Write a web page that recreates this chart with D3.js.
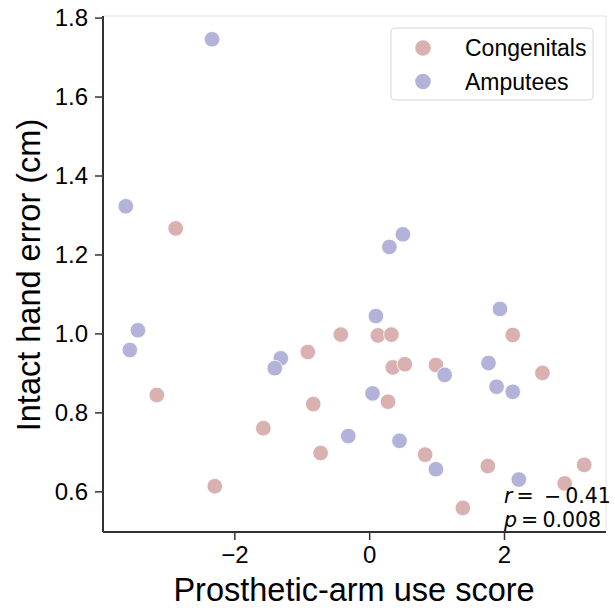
<!DOCTYPE html>
<html>
<head>
<meta charset="utf-8">
<script src="https://cdn.jsdelivr.net/npm/d3@7"></script>
<style>
    body { margin: 0; background: white; }
    svg { display: block; }
</style>
</head>
<body>
<div id="chart"></div>
<script>
// Congenitals: prosthetic-arm use score and intact hand error (cm)
const congenitalScore = [-2.87, -3.15, -1.57, -2.29, -0.91, -0.83, -0.72, -0.42, 0.13, 0.33, 0.35,
    0.53, 0.28, 0.99, 0.83, 1.76, 1.39, 2.13, 2.57, 3.19, 2.90];
const congenitalError = [1.266, 0.844, 0.760, 0.613, 0.953, 0.821, 0.697, 0.997, 0.995, 0.997, 0.914,
    0.922, 0.827, 0.920, 0.693, 0.664, 0.558, 0.996, 0.900, 0.667, 0.620];

// Amputees
const amputeeScore = [-2.33, -3.61, -3.43, -3.55, -1.31, -1.40, 0.50, 0.30, 0.10, 0.05, -0.31,
    0.45, 0.99, 1.12, 1.94, 1.77, 1.89, 2.13, 2.22];
const amputeeError = [1.745, 1.322, 1.008, 0.958, 0.937, 0.912, 1.251, 1.219, 1.044, 0.848, 0.740,
    0.728, 0.656, 0.895, 1.062, 0.925, 0.865, 0.852, 0.630];

const groups = ['Congenitals', 'Amputees'];
const groupColors = ['#d9b1b1', '#b3b3da'];
const xTicks = [-2, 0, 2];
const yTicks = [0.6, 0.8, 1.0, 1.2, 1.4, 1.6, 1.8];
const statLines = [['r', '\u2009=\u2002−\u20090.41'], ['p', '\u2009=\u20090.008']];

const width = 615;
const height = 608;
const margin = {left: 103, right: 606, top: 16, bottom: 532};
const font = '"Liberation Sans", Arial, Helvetica, sans-serif';

const x = d3.scaleLinear().domain([-3.948, 3.513]).range([margin.left, margin.right]);
const y = d3.scaleLinear().domain([0.497, 1.804]).range([margin.bottom, margin.top]);

const svg = d3.select('#chart').append('svg')
    .attr('width', width)
    .attr('height', height);

// light top / right spines
svg.append('line').attr('x1', margin.left).attr('x2', margin.right)
    .attr('y1', margin.top).attr('y2', margin.top)
    .attr('stroke', '#e3e3e3').attr('stroke-width', 1);
svg.append('line').attr('x1', margin.right).attr('x2', margin.right)
    .attr('y1', margin.top).attr('y2', margin.bottom)
    .attr('stroke', '#e3e3e3').attr('stroke-width', 1);

// axes
const xAxis = svg.append('g')
    .attr('transform', `translate(0,${margin.bottom})`)
    .call(d3.axisBottom(x).tickValues(xTicks).tickSize(8).tickPadding(6)
        .tickFormat(d => d < 0 ? '−' + Math.abs(d) : d))
    .call(g => g.select('.domain').attr('d', `M${margin.left},0H${margin.right}`));
const yAxis = svg.append('g')
    .attr('transform', `translate(${margin.left},0)`)
    .call(d3.axisLeft(y).tickValues(yTicks).tickSize(8).tickPadding(7).tickFormat(d3.format('.1f')))
    .call(g => g.select('.domain').attr('d', `M0,${margin.top}V${margin.bottom}`));

[xAxis, yAxis].forEach(g => {
    g.select('.domain').attr('stroke', '#333').attr('stroke-width', 2);
    g.selectAll('.tick line').attr('stroke', '#333').attr('stroke-width', 1.5);
    g.selectAll('.tick text').attr('fill', 'black')
        .style('font-family', font).style('font-size', '24px');
});

// points
const seriesData = [
    congenitalScore.map((s, i) => ({x: s, y: congenitalError[i]})),
    amputeeScore.map((s, i) => ({x: s, y: amputeeError[i]}))
];
seriesData.forEach((pts, gi) => {
    svg.append('g')
        .selectAll('circle')
        .data(pts)
        .join('circle')
        .attr('cx', d => x(d.x))
        .attr('cy', d => y(d.y))
        .attr('r', 7.8)
        .attr('fill', groupColors[gi])
        .attr('stroke', 'white')
        .attr('stroke-width', 0.8);
});

// axis labels
svg.append('text')
    .attr('x', (173 + 535) / 2).attr('y', 601)
    .attr('text-anchor', 'middle')
    .style('font-family', font).style('font-size', '32.5px')
    .text('Prosthetic-arm use score');
svg.append('text')
    .attr('transform', 'translate(40,275) rotate(-90)')
    .attr('text-anchor', 'middle')
    .style('font-family', font).style('font-size', '32.5px')
    .text('Intact hand error (cm)');

// legend
const legend = svg.append('g').attr('transform', 'translate(391,28)');
legend.append('rect')
    .attr('width', 202).attr('height', 72).attr('rx', 4)
    .attr('fill', 'white').attr('fill-opacity', 0.8)
    .attr('stroke', '#d6d6d6').attr('stroke-width', 1);
groups.forEach((name, i) => {
    const row = legend.append('g').attr('transform', `translate(0,${20 + i * 33.5})`);
    row.append('circle').attr('cx', 32).attr('cy', 0).attr('r', 7.8).attr('fill', groupColors[i]);
    row.append('text')
        .attr('x', 74).attr('y', 0).attr('dy', '0.35em')
        .style('font-family', font).style('font-size', '23px')
        .text(name);
});

// correlation annotation
statLines.forEach(([sym, rest], i) => {
    const t = svg.append('text')
        .attr('x', 504).attr('y', 503 + i * 24)
        .style('font-family', '"DejaVu Sans", sans-serif').style('font-size', '20.5px');
    t.append('tspan').attr('font-style', 'italic').text(sym);
    t.append('tspan').text(rest);
});
</script>
</body>
</html>
